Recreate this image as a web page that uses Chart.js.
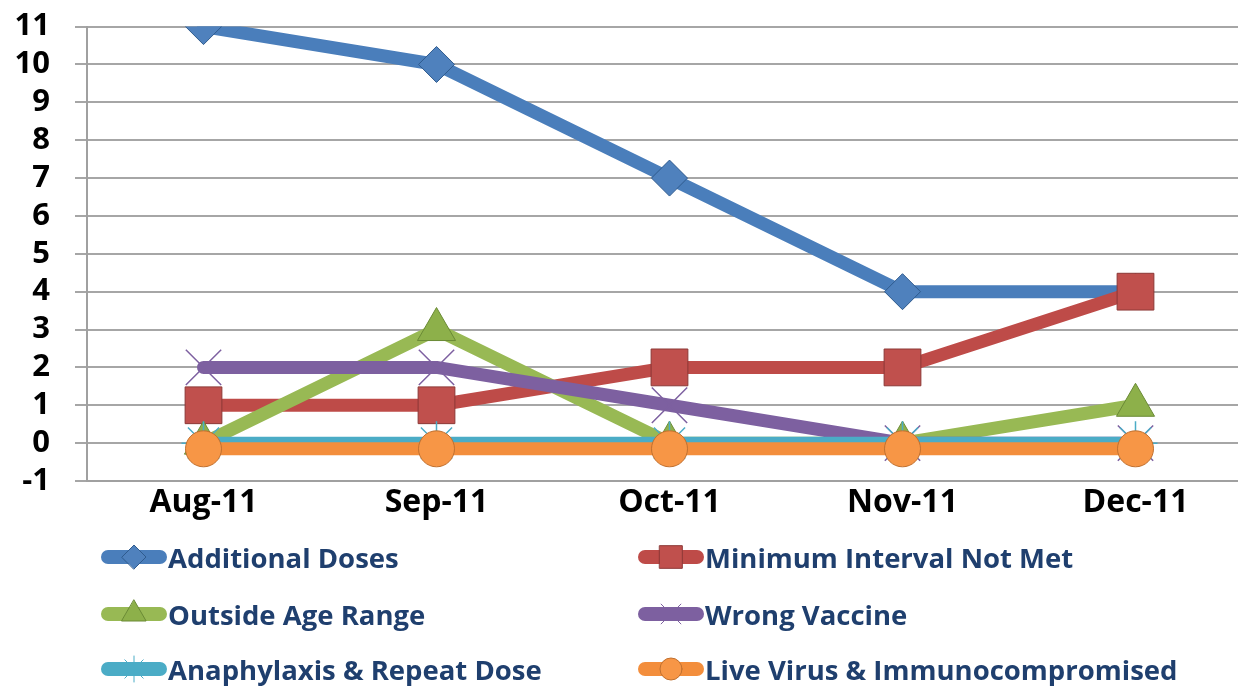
<!DOCTYPE html>
<html>
<head>
<meta charset="utf-8">
<script src="https://cdn.jsdelivr.net/npm/chart.js"></script>
<style>
  html, body { margin: 0; padding: 0; background: #fff; overflow: hidden; }
  #wrap { position: absolute; left: 0; top: -17px; width: 1252px; height: 547px; }
  #wrap canvas { width: 1252px; height: 547px; }
  #legend { position: absolute; left: 0; top: 0; width: 1238px; height: 686px; pointer-events: none; }
  .item { position: absolute; height: 34px; display: flex; align-items: center; }
  .item canvas { width: 68px; height: 30px; }
  .item span { font-family: "Open Sans", Lato, sans-serif; font-weight: 700; font-size: 27.5px; color: #1F3F6E; white-space: nowrap; }
</style>
</head>
<body>
<div id="wrap"><canvas id="grafico" width="1252" height="547"></canvas></div>
<div id="legend"></div>
<script>
const meses = ['Aug-11', 'Sep-11', 'Oct-11', 'Nov-11', 'Dec-11'];
const additionalDoses = [11, 10, 7, 4, 4];
const minimumInterval = [1, 1, 2, 2, 4];
const outsideAgeRange = [0, 3, 0, 0, 1];
const wrongVaccine = [2, 2, 1, 0, 0];
const anaphylaxis = [0, 0, 0, 0, 0];
const liveVirus = [-0.15, -0.15, -0.15, -0.15, -0.15];

const series = [
    { label: 'Additional Doses', data: additionalDoses, cor: '#4A7EBB', fundo: '#4F81BD', borda: '#2F5B8E', estilo: 'rectRot', raio: 18, leg: 12 },
    { label: 'Minimum Interval Not Met', data: minimumInterval, cor: '#BE4B48', fundo: '#C0504D', borda: '#8C3836', estilo: 'rect', raio: 26, leg: 16 },
    { label: 'Outside Age Range', data: outsideAgeRange, cor: '#98B954', fundo: '#8DB04A', borda: '#6A8A35', estilo: 'triangle', raio: 22, leg: 14 },
    { label: 'Wrong Vaccine', data: wrongVaccine, cor: '#7D60A0', fundo: '#7D60A0', borda: '#7D60A0', estilo: 'crossRot', raio: 25, leg: 14 },
    { label: 'Anaphylaxis & Repeat Dose', data: anaphylaxis, cor: '#4BACC6', fundo: '#4BACC6', borda: '#4BACC6', estilo: 'star', raio: 22, leg: 13 },
    { label: 'Live Virus & Immunocompromised', data: liveVirus, cor: '#F38E3C', fundo: '#F79646', borda: '#C0702F', estilo: 'circle', raio: 18, leg: 11 }
];

const fonte = '"Open Sans", Lato, sans-serif';

let config = {
    type: 'line',
    data: {
        labels: meses,
        datasets: series.map((s, i) => ({
            label: s.label,
            data: s.data,
            order: series.length - i,
            borderColor: s.cor,
            borderWidth: 13,
            borderCapStyle: 'round',
            borderJoinStyle: 'round',
            tension: 0,
            pointStyle: s.estilo,
            pointRadius: s.raio,
            pointHoverRadius: s.raio,
            pointBackgroundColor: s.fundo,
            pointBorderColor: s.borda,
            pointBorderWidth: (s.estilo === 'crossRot' || s.estilo === 'star') ? 1.5 : 1
        }))
    },
    options: {
        responsive: false,
        animation: false,
        layout: { autoPadding: false, padding: { top: 8, right: 0, bottom: 1, left: 0 } },
        plugins: { legend: { display: false }, tooltip: { enabled: false } },
        scales: {
            x: {
                offset: true,
                grid: { display: false, drawTicks: false },
                border: { display: true, color: '#A0A0A0', width: 2 },
                ticks: { color: '#000', padding: 3, font: { family: fonte, size: 32, weight: 'bold' } },
                afterFit: s => { s.height = 48; }
            },
            y: {
                min: -1,
                max: 11,
                ticks: { stepSize: 1, autoSkip: false, color: '#000', padding: 25, font: { family: fonte, size: 31, weight: 'bold' } },
                grid: { color: '#A6A6A6', lineWidth: 2, tickLength: 12 },
                border: { display: true, color: '#A0A0A0', width: 2 },
                afterFit: s => { s.width = 87; }
            }
        }
    }
};

let ctx = document.getElementById('grafico').getContext('2d');
window.myLine = new Chart(ctx, config);

// legenda em HTML, duas colunas
const posicoes = [
    [100, 557], [637, 557],
    [100, 614], [637, 614],
    [100, 669], [637, 669]
];
const legenda = document.getElementById('legend');
series.forEach((s, i) => {
    const div = document.createElement('div');
    div.className = 'item';
    div.style.left = posicoes[i][0] + 'px';
    div.style.top = (posicoes[i][1] - 17) + 'px';
    const c = document.createElement('canvas');
    c.width = 68; c.height = 30;
    const g = c.getContext('2d');
    g.strokeStyle = s.cor;
    g.lineWidth = 14;
    g.lineCap = 'round';
    g.beginPath(); g.moveTo(8, 15); g.lineTo(60, 15); g.stroke();
    g.fillStyle = s.fundo;
    g.strokeStyle = s.borda;
    g.lineWidth = 1;
    Chart.helpers.drawPoint(g, { pointStyle: s.estilo, radius: s.leg, rotation: 0, borderWidth: 1 }, 34, 15);
    const t = document.createElement('span');
    t.textContent = s.label;
    div.appendChild(c);
    div.appendChild(t);
    legenda.appendChild(div);
});
</script>
</body>
</html>
